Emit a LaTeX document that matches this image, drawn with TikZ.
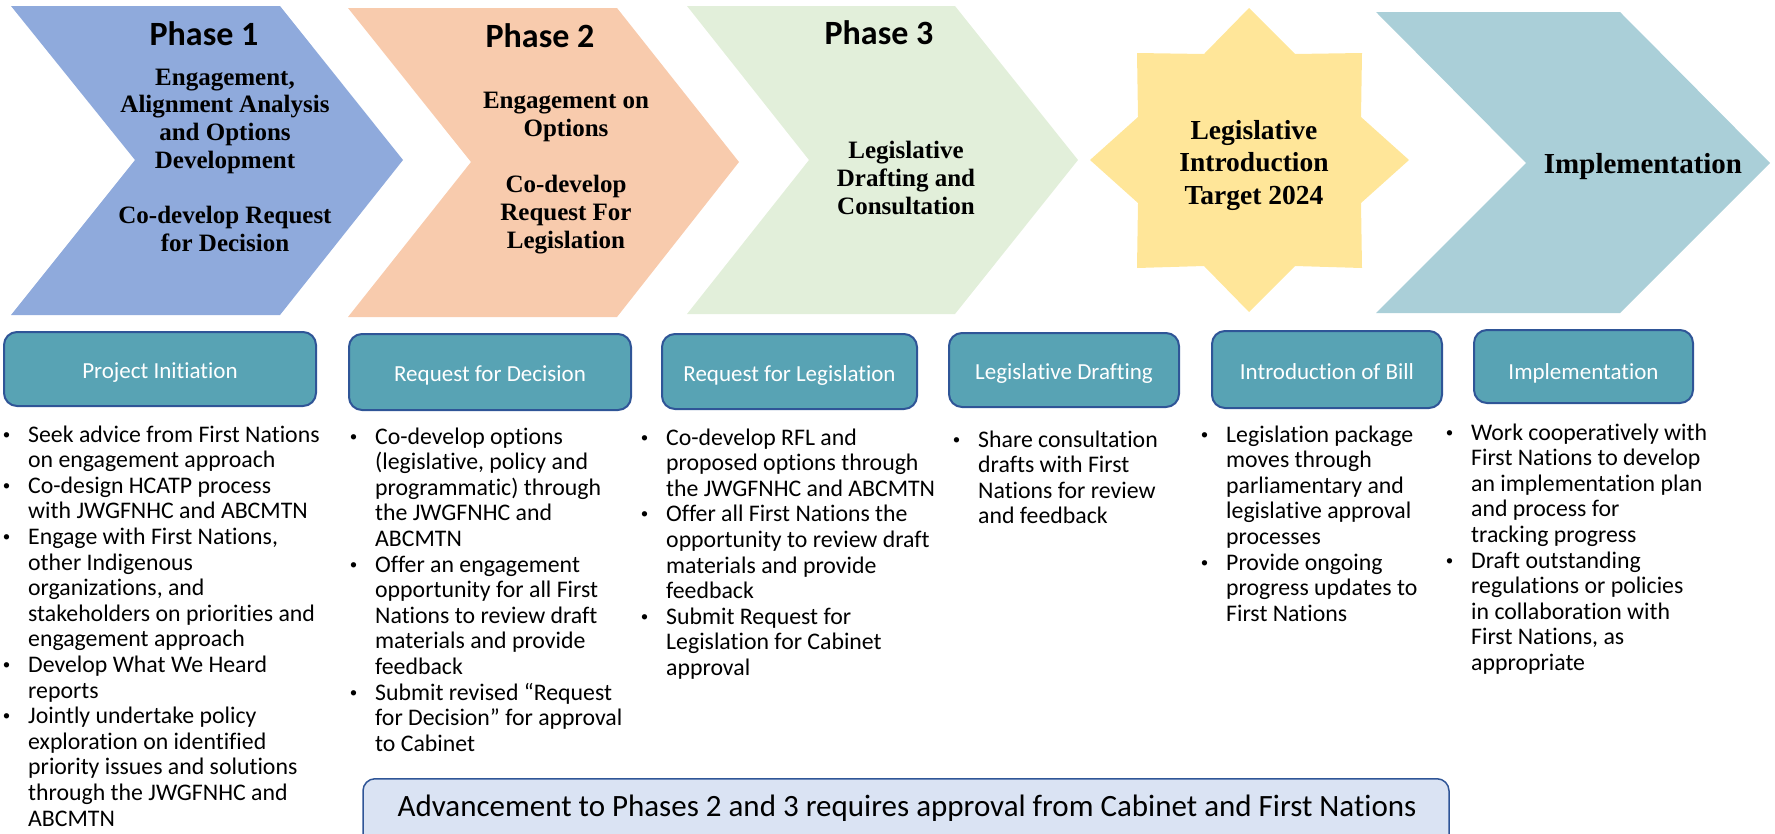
\documentclass[tikz,border=0pt]{standalone}
\usepackage{fontspec}
\setmainfont{Carlito}[Ligatures=NoCommon]
\newfontfamily\hdserif{Liberation Serif}
\definecolor{cOne}{HTML}{8FAADC}
\definecolor{cTwo}{HTML}{F8CBAD}
\definecolor{cThree}{HTML}{E2EFDA}
\definecolor{cStar}{HTML}{FFE699}
\definecolor{cFive}{HTML}{AACFD8}
\definecolor{boxfill}{HTML}{58A3B4}
\definecolor{boxline}{HTML}{2F5597}
\definecolor{banfill}{HTML}{DAE3F3}
\newcommand{\bul}{\leavevmode\llap{\makebox[0pt]{\raisebox{3pt}{\fontsize{15}{15}\selectfont\textbullet}}\hspace{21.5pt}}}
\newcommand{\blist}[1]{\parbox[t]{330pt}{\raggedright\fontsize{23.8}{25.6}\selectfont #1}}
\newcommand{\subttl}[3]{\parbox[t]{330pt}{\centering\hdserif\bfseries\fontsize{#1}{#2}\selectfont #3}}
\tikzset{
  stagebox/.style={rectangle, rounded corners=13pt, draw=boxline, line width=2pt, fill=boxfill,
    text=white, font=\fontsize{23}{26}\selectfont, inner sep=0pt, text height=21pt, text depth=2pt},
  phasettl/.style={anchor=base, inner sep=0pt, font=\bfseries\fontsize{34}{40}\selectfont},
  subnode/.style={anchor=base, inner sep=0pt},
  bullets/.style={anchor=base west, inner sep=0pt},
  banner/.style={rectangle, rounded corners=12pt, draw=boxline, line width=1.5pt, fill=banfill, inner sep=0pt}
}
\begin{document}
\begin{tikzpicture}[x=1pt,y=-1pt]
\useasboundingbox (0,0) rectangle (1775,833);
% chevrons
\fill[cOne] (11,6) -- (280,6) -- (403,160) -- (280,315) -- (11,315) -- (135,160) -- cycle;
\fill[cTwo] (348,8) -- (617,8) -- (739,162) -- (617,317) -- (348,317) -- (471,162) -- cycle;
\fill[cThree] (687,6) -- (955,6) -- (1078,160) -- (955,314) -- (687,314) -- (809,160) -- cycle;
\fill[cStar] (1249,8) -- (1295,54) -- (1362,53) -- (1361,117) -- (1409,160) -- (1361,203) -- (1362,268)
  -- (1295,266) -- (1249,312) -- (1204,266) -- (1137,268) -- (1138,203) -- (1090,160) -- (1138,117)
  -- (1137,53) -- (1204,54) -- cycle;
\fill[cFive] (1376,12) -- (1620,12) -- (1770,163) -- (1620,313) -- (1376,313) -- (1526,163) -- cycle;
% headings
\node[phasettl] (p1) at (204,45) {Phase 1};
\node[phasettl] (p2) at (540,47) {Phase 2};
\node[phasettl] (p3) at (879,44) {Phase 3};
\node[subnode] (s1) at (225,85) {\subttl{25}{27.7}{Engagement,\\ Alignment Analysis\\ and Options\\ Development\\[27.7pt] Co-develop Request\\ for Decision}};
\node[subnode] (s2) at (566,108) {\subttl{25}{28}{Engagement on\\ Options\\[28pt] Co-develop\\ Request For\\ Legislation}};
\node[subnode] (s3) at (906,158) {\subttl{25}{28}{Legislative\\ Drafting and\\ Consultation}};
\node[subnode] (s4) at (1254,139) {\subttl{27.5}{32.5}{Legislative\\ Introduction\\ Target 2024}};
\node[subnode] (s5) at (1643,173) {\subttl{29}{32}{Implementation}};
% stage boxes
\node[stagebox, minimum width=312pt, minimum height=74pt] (b1) at (160,369) {Project Initiation};
\node[stagebox, minimum width=282pt, minimum height=76pt] (b2) at (490,372) {Request for Decision};
\node[stagebox, minimum width=255pt, minimum height=75pt] (b3) at (789.5,371.5) {Request for Legislation};
\node[stagebox, minimum width=230pt, minimum height=74pt] (b4) at (1064,370) {Legislative Drafting};
\node[stagebox, minimum width=230pt, minimum height=77pt] (b5) at (1327,369.5) {Introduction of Bill};
\node[stagebox, minimum width=219pt, minimum height=73pt, text height=28pt] (b6) at (1583.5,366.5) {Implementation};
% bullet lists
\node[bullets] (l1) at (28,442) {\blist{\bul Seek advice from First Nations\\ on engagement approach\\
\bul Co-design HCATP process\\ with JWGFNHC and ABCMTN\\
\bul Engage with First Nations,\\ other Indigenous\\ organizations, and\\ stakeholders on priorities and\\ engagement approach\\
\bul Develop What We Heard\\ reports\\
\bul Jointly undertake policy\\ exploration on identified\\ priority issues and solutions\\ through the JWGFNHC and\\ ABCMTN}};
\node[bullets] (l2) at (375,444) {\blist{\bul Co-develop options\\ (legislative, policy and\\ programmatic) through\\ the JWGFNHC and\\ ABCMTN\\
\bul Offer an engagement\\ opportunity for all First\\ Nations to review draft\\ materials and provide\\ feedback\\
\bul Submit revised “Request\\ for Decision” for approval\\ to Cabinet}};
\node[bullets] (l3) at (666,445) {\blist{\bul Co-develop RFL and\\ proposed options through\\ the JWGFNHC and ABCMTN\\
\bul Offer all First Nations the\\ opportunity to review draft\\ materials and provide\\ feedback\\
\bul Submit Request for\\ Legislation for Cabinet\\ approval}};
\node[bullets] (l4) at (978,447) {\blist{\bul Share consultation\\ drafts with First\\ Nations for review\\ and feedback}};
\node[bullets] (l5) at (1226,442) {\blist{\bul Legislation package\\ moves through\\ parliamentary and\\ legislative approval\\ processes\\
\bul Provide ongoing\\ progress updates to\\ First Nations}};
\node[bullets] (l6) at (1471,440) {\blist{\bul Work cooperatively with\\ First Nations to develop\\ an implementation plan\\ and process for\\ tracking progress\\
\bul Draft outstanding\\ regulations or policies\\ in collaboration with\\ First Nations, as\\ appropriate}};
% banner
\node[banner, anchor=north, minimum width=1086pt, minimum height=70pt] (ban) at (906,778) {};
\node[anchor=base, inner sep=0pt, font=\fontsize{31}{36}\selectfont] (bantext) at (907,816) {Advancement to Phases 2 and 3 requires approval from Cabinet and First Nations};
\end{tikzpicture}
\end{document}
